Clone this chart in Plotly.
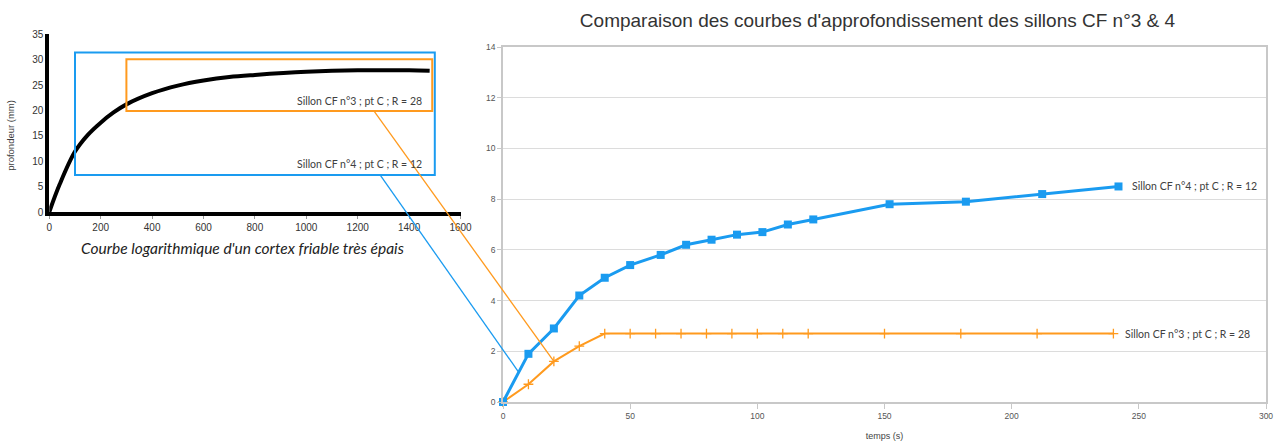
import plotly.graph_objects as go

# ── data ────────────────────────────────────────────────────────────────
# main chart: depth (mm) vs time (s)
temps_cf4 = [0, 10, 20, 30, 40, 50, 62, 72, 82, 92, 102, 112, 122, 152, 182, 212, 242]
prof_cf4 = [0, 1.9, 2.9, 4.2, 4.9, 5.4, 5.8, 6.2, 6.4, 6.6, 6.7, 7.0, 7.2, 7.8, 7.9, 8.2, 8.5]

temps_cf3 = [0, 10, 20, 30, 40, 50, 60, 70, 80, 90, 100, 110, 120, 150, 180, 210, 240]
prof_cf3 = [0, 0.7, 1.6, 2.2, 2.7, 2.7, 2.7, 2.7, 2.7, 2.7, 2.7, 2.7, 2.7, 2.7, 2.7, 2.7, 2.7]

label_cf4 = "Sillon CF n°4 ; pt C ; R = 12"
label_cf3 = "Sillon CF n°3 ; pt C ; R = 28"

# inset: reference logarithmic curve
log_x = [0, 40, 100, 150, 200, 250, 300, 400, 500, 600, 700, 800, 1000, 1200, 1400, 1480]
log_y = [0, 5.4, 11.9, 15.2, 17.6, 19.6, 21.2, 23.4, 24.9, 25.9, 26.6, 27.0, 27.6, 27.9, 27.9, 27.8]

main_xticks = [0, 50, 100, 150, 200, 250, 300]
main_yticks = [0, 2, 4, 6, 8, 10, 12, 14]
inset_xticks = [0, 200, 400, 600, 800, 1000, 1200, 1400, 1600]
inset_yticks = [0, 5, 10, 15, 20, 25, 30, 35]

# ── style ───────────────────────────────────────────────────────────────
W, H = 1278, 441
BLUE = "#1a9bf0"
ORANGE = "#ff9a1e"
GRID = "#dcdcdc"
AXIS = "#c8c8c8"
TXT = "#404040"
SANS = "Liberation Sans, Arial, sans-serif"
CAL = "Lato, Open Sans, sans-serif"

# axis placement in pixels -> paper fractions
MAIN_X = (503 / W, 1266 / W)
MAIN_Y = (1 - 402 / H, 1 - 47 / H)
INS_X = (49.3 / W, 460.5 / W)
INS_Y = (1 - 212 / H, 1 - 34.3 / H)
MAIN_XR, MAIN_YR = [0, 300], [0, 14]
INS_XR, INS_YR = [0, 1600], [0, 35]


def to_paper(dom, rng, v):
    return dom[0] + (v - rng[0]) / (rng[1] - rng[0]) * (dom[1] - dom[0])


fig = go.Figure()

# inset curve
fig.add_trace(go.Scatter(
    x=log_x, y=log_y, xaxis="x2", yaxis="y2", mode="lines",
    line=dict(color="black", width=4, shape="spline", smoothing=1.0),
    hoverinfo="skip", showlegend=False,
))

# main series
fig.add_trace(go.Scatter(
    x=temps_cf3, y=prof_cf3, mode="lines+markers", name=label_cf3,
    line=dict(color=ORANGE, width=2),
    marker=dict(symbol="cross-thin", size=7, line=dict(color=ORANGE, width=1.3)),
    cliponaxis=False, showlegend=False,
))
fig.add_trace(go.Scatter(
    x=temps_cf4, y=prof_cf4, mode="lines+markers", name=label_cf4,
    line=dict(color=BLUE, width=3),
    marker=dict(symbol="square", size=8, color=BLUE),
    cliponaxis=False, showlegend=False,
))

# end-of-line labels
for xs, ys, lab, shift in [(temps_cf4, prof_cf4, label_cf4, 12), (temps_cf3, prof_cf3, label_cf3, 10)]:
    fig.add_annotation(x=xs[-1], y=ys[-1], xref="x", yref="y", text=lab,
                       showarrow=False, xanchor="left", yanchor="middle", xshift=shift,
                       font=dict(family=CAL, size=10.5, color=TXT))

# inset rectangles and their labels
fig.add_shape(type="rect", xref="x2", yref="y2", x0=100, x1=1500, y0=7.3, y1=31.4,
              line=dict(color=BLUE, width=2))
fig.add_shape(type="rect", xref="x2", yref="y2", x0=300, x1=1490, y0=19.9, y1=30.1,
              line=dict(color=ORANGE, width=2))
fig.add_annotation(x=424 / W, y=1 - 101 / H, xref="paper", yref="paper", text=label_cf3,
                   showarrow=False, xanchor="right", yanchor="middle",
                   font=dict(family=CAL, size=10.5, color=TXT))
fig.add_annotation(x=424 / W, y=1 - 164.3 / H, xref="paper", yref="paper", text=label_cf4,
                   showarrow=False, xanchor="right", yanchor="middle",
                   font=dict(family=CAL, size=10.5, color=TXT))

# connectors from inset boxes to the main chart
connectors = [
    (ORANGE, (1263, 19.9), (20, 1.6)),
    (BLUE, (1287, 7.3), (6, 1.2)),
]
for col, (ix, iy), (mx, my) in connectors:
    fig.add_shape(type="line", xref="paper", yref="paper",
                  x0=to_paper(INS_X, INS_XR, ix), y0=to_paper(INS_Y, INS_YR, iy),
                  x1=to_paper(MAIN_X, MAIN_XR, mx), y1=to_paper(MAIN_Y, MAIN_YR, my),
                  line=dict(color=col, width=1.3))

# inset captions
fig.add_annotation(x=11 / W, y=1 - 135.8 / H, xref="paper", yref="paper",
                   text="profondeur (mm)", textangle=-90, showarrow=False,
                   xanchor="center", yanchor="middle",
                   font=dict(family=SANS, size=9.5, color=TXT))
fig.add_annotation(x=242.5 / W, y=1 - 247.7 / H, xref="paper", yref="paper",
                   text="<i>Courbe logarithmique d'un cortex friable très épais</i>",
                   showarrow=False, xanchor="center", yanchor="middle",
                   font=dict(family=CAL, size=15.5, color="#222"))

fig.update_layout(
    width=W, height=H,
    margin=dict(l=0, r=0, t=0, b=0),
    paper_bgcolor="white", plot_bgcolor="white",
    title=dict(text="Comparaison des courbes d'approfondissement des sillons CF n°3 & 4",
               x=877.5 / W, y=1 - 20 / H, xref="paper", yref="paper",
               xanchor="center", yanchor="middle",
               font=dict(family=SANS, size=19, color="#333")),
    xaxis=dict(domain=list(MAIN_X), range=MAIN_XR, tickvals=main_xticks,
               showgrid=False, zeroline=False, showline=True, linecolor=AXIS, linewidth=1.5,
               mirror=True, ticks="outside", ticklen=5, tickcolor=AXIS,
               tickfont=dict(family=SANS, size=8.5, color="#555"),
               title=dict(text="temps (s)", standoff=13,
                          font=dict(family=SANS, size=9, color="#444")),
               automargin=False),
    yaxis=dict(domain=list(MAIN_Y), range=MAIN_YR, tickvals=main_yticks,
               showgrid=True, gridcolor=GRID, gridwidth=1, zeroline=False,
               showline=True, linecolor=AXIS, linewidth=1.5, mirror=True,
               ticks="outside", ticklen=4, tickcolor=AXIS,
               tickfont=dict(family=SANS, size=8.5, color="#555"), automargin=False),
    xaxis2=dict(domain=list(INS_X), range=INS_XR, tickvals=inset_xticks, anchor="y2",
                showgrid=False, zeroline=False, showline=True, linecolor="black", linewidth=4,
                ticks="outside", ticklen=3, tickcolor="#999",
                tickfont=dict(family=SANS, size=10, color="#333"), automargin=False),
    yaxis2=dict(domain=list(INS_Y), range=INS_YR, tickvals=inset_yticks, anchor="x2",
                showgrid=False, zeroline=False, showline=True, linecolor="black", linewidth=4,
                ticks="", tickfont=dict(family=SANS, size=10, color="#333"), automargin=False),
)

# page body has a default 8px margin; drop it so the figure fills the window
fig.write_html("out.html", config={"displayModeBar": False},
               post_script="document.body.style.margin='0';")
